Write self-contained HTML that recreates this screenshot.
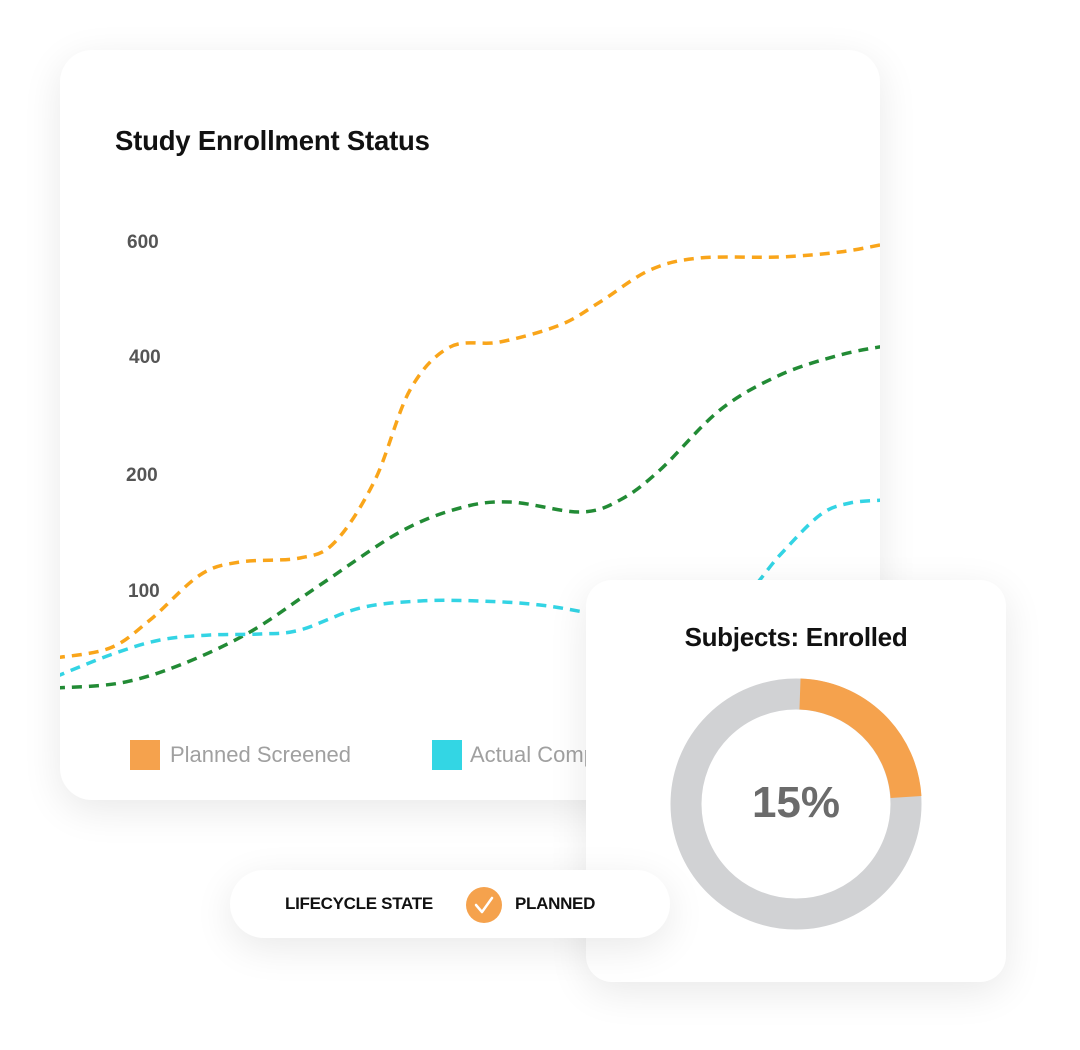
<!DOCTYPE html>
<html><head><meta charset="utf-8"><style>
html,body{margin:0;padding:0;background:#fff;}
body{width:1080px;height:1050px;position:relative;overflow:hidden;font-family:"Liberation Sans",sans-serif;}
.card{position:absolute;background:#fff;box-shadow:0 10px 40px rgba(0,0,0,0.09);}
#main{left:60px;top:50px;width:820px;height:750px;border-radius:32px;overflow:hidden;z-index:1;}
#donut{left:586px;top:580px;width:420px;height:402px;border-radius:26px;z-index:2;}
#pill{left:230px;top:870px;width:440px;height:68px;border-radius:34px;z-index:3;}
.t{position:absolute;white-space:nowrap;}
</style></head><body>
<div class="card" id="main">
  <div class="t" style="left:55px;top:75px;font-size:27.5px;font-weight:bold;color:#111;letter-spacing:-0.2px">Study Enrollment Status</div>
  <div class="t" style="left:67px;top:182px;font-size:19px;font-weight:bold;color:#555">600</div>
  <div class="t" style="left:69px;top:297px;font-size:19px;font-weight:bold;color:#555">400</div>
  <div class="t" style="left:66px;top:415px;font-size:19px;font-weight:bold;color:#555">200</div>
  <div class="t" style="left:68px;top:531px;font-size:19px;font-weight:bold;color:#555">100</div>
  <svg width="820" height="750" style="position:absolute;left:0;top:0" viewBox="60 50 820 750">
    <path id="po" fill="none" stroke="#f9a51a" stroke-width="3.5" stroke-dasharray="10 7"/>
    <path id="pg" fill="none" stroke="#228b35" stroke-width="3.5" stroke-dasharray="10 7"/>
    <path id="pc" fill="none" stroke="#33d4e4" stroke-width="3.5" stroke-dasharray="10 7"/>
  </svg>
  <div style="position:absolute;left:70px;top:690px;width:30px;height:30px;background:#f5a24d"></div>
  <div class="t" style="left:110px;top:690px;font-size:22px;color:#a0a0a0;line-height:30px">Planned Screened</div>
  <div style="position:absolute;left:372px;top:690px;width:30px;height:30px;background:#33d6e4"></div>
  <div class="t" style="left:410px;top:690px;font-size:22px;color:#a0a0a0;line-height:30px">Actual Completed</div>
</div>
<div class="card" id="pill">
  <div class="t" style="left:55px;top:24px;font-size:17px;font-weight:bold;color:#111;letter-spacing:-0.3px">LIFECYCLE STATE</div>
  <svg width="36" height="36" style="position:absolute;left:236px;top:17px"><circle cx="18" cy="18" r="18" fill="#f5a24d"/><path d="M10 18 L16 25 L26 11" fill="none" stroke="#fff" stroke-width="2.5" stroke-linecap="round" stroke-linejoin="round"/></svg>
  <div class="t" style="left:285px;top:24px;font-size:17px;font-weight:bold;color:#111;letter-spacing:-0.3px">PLANNED</div>
</div>
<div class="card" id="donut">
  <div class="t" style="left:0;width:420px;text-align:center;top:42px;font-size:26px;font-weight:bold;color:#111;letter-spacing:-0.3px">Subjects: Enrolled</div>
  <svg width="420" height="402" style="position:absolute;left:0;top:0">
    <circle cx="210" cy="224" r="110" fill="none" stroke="#d1d2d4" stroke-width="31"/>
    <path d="M214 114 A110 110 0 0 1 320 217" fill="none" stroke="#f5a24d" stroke-width="31"/>
  </svg>
  <div class="t" style="left:0;width:420px;text-align:center;top:198px;font-size:44px;font-weight:bold;color:#6b6b6b">15%</div>
</div>
<script>
function cr(p){var d="M"+p[0][0]+" "+p[0][1];for(var i=0;i<p.length-1;i++){var p0=p[i-1]||p[i],p1=p[i],p2=p[i+1],p3=p[i+2]||p2;var c1=[p1[0]+(p2[0]-p0[0])/6,p1[1]+(p2[1]-p0[1])/6],c2=[p2[0]-(p3[0]-p1[0])/6,p2[1]-(p3[1]-p1[1])/6];d+=" C"+c1+" "+c2+" "+p2;}return d;}
document.getElementById('po').setAttribute('d',cr([[55,658],[110,648],[150,620],[200,575],[240,562],[300,558],[335,542],[375,480],[410,390],[450,347],[500,342],[560,325],[600,302],[650,270],[700,258],[780,257],[840,252],[885,244]]));
document.getElementById('pg').setAttribute('d',cr([[55,688],[120,683],[180,665],[250,632],[320,585],[400,532],[460,508],[510,502],[580,512],[620,500],[660,470],[720,410],[780,375],[840,355],[885,346]]));
document.getElementById('pc').setAttribute('d',cr([[55,677],[110,655],[160,640],[210,635],[260,634],[300,630],[360,608],[420,601],[480,601],[540,605],[600,615],[680,630],[740,600],[780,555],[820,515],[850,503],[885,500]]));
</script>
</body></html>
